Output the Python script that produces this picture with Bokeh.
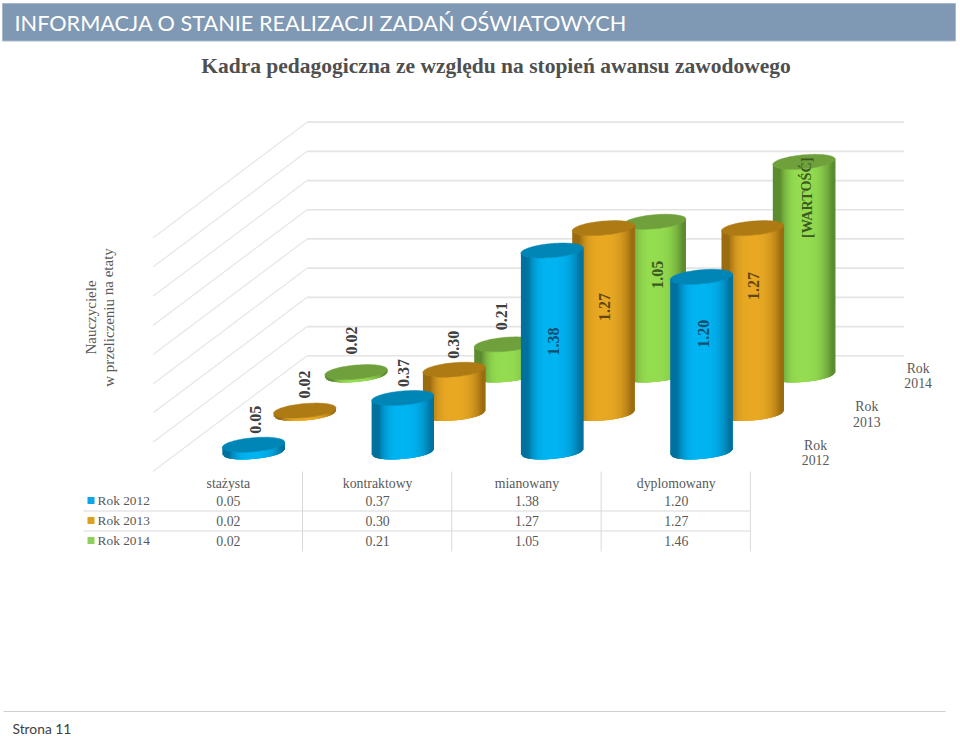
import math
from bokeh.plotting import figure
from bokeh.models import Range1d
from bokeh.core.properties import value
from bokeh.embed import file_html
from bokeh.resources import INLINE

# ---- data ----
categories = ["stażysta", "kontraktowy", "mianowany", "dyplomowany"]
series_names = ["Rok 2012", "Rok 2013", "Rok 2014"]
rok_2012 = [0.05, 0.37, 1.38, 1.20]
rok_2013 = [0.02, 0.30, 1.27, 1.27]
rok_2014 = [0.02, 0.21, 1.05, 1.46]
grid_values = [0.0, 0.2, 0.4, 0.6, 0.8, 1.0, 1.2, 1.4, 1.6]
labels_2012 = ["0.05", "0.37", "1.38", "1.20"]
labels_2013 = ["0.02", "0.30", "1.27", "1.27"]
labels_2014 = ["0.02", "0.21", "1.05", "[WARTOŚĆ]"]

header_text = "INFORMACJA O STANIE REALIZACJI ZADAŃ OŚWIATOWYCH"
title_text = "Kadra pedagogiczna ze względu na stopień awansu zawodowego"
axis_lines = ["Nauczyciele", "w przeliczeniu na etaty"]
footer_text = "Strona 11"

# ---- styles ----
SERIF = "Liberation Serif"
SANS = "Lato"
TXT = "#595959"
# (light, dark edge, top)
palette = [("#00b4f2", "#00729f", "#0086b6"),
           ("#e8a823", "#9c6c10", "#ae7a14"),
           ("#94dc50", "#5d8c30", "#6fa03c")]
key_colors = ["#0ea5e6", "#d9a021", "#8fd05a"]
inside_label_colors = ["#0f4f70", "#5f4510", "#3c5a22"]

# ---- oblique projection (category, depth, value) -> page position ----
X0, Y0, DX_CAT, DX_SER, DY_SER, PX_PER_UNIT = 253.0, 451.5, 149.3, 51.3, 38.5, 146.0
RX, RY, TILT = 31.2, 7.0, 0.085


def project(cat, ser, val):
    return (X0 + DX_CAT * cat + DX_SER * ser,
            Y0 - DY_SER * ser - PX_PER_UNIT * val)


def mix(a, b, t):
    ca = [int(a[i:i + 2], 16) for i in (1, 3, 5)]
    cb = [int(b[i:i + 2], 16) for i in (1, 3, 5)]
    return "#%02x%02x%02x" % tuple(round(p + (q - p) * t) for p, q in zip(ca, cb))


def front_arc(u):
    return RY * math.sqrt(max(0.0, 1 - u * u)) - TILT * RX * u


p = figure(width=960, height=736, output_backend="svg", toolbar_location=None,
           x_range=Range1d(0, 960), y_range=Range1d(736, 0),
           x_axis_location=None, y_axis_location=None, min_border=0,
           outline_line_color=None, background_fill_color="white")
p.grid.visible = False

# header band, footer rule
p.quad(left=[2], right=[955], top=[3], bottom=[40.5], fill_color="#7f98b3", line_color="#a9b9ca", line_width=1)
p.text([14], [22.5], text=[header_text], text_font=value(SANS), text_font_size="21.7px",
       text_color="white", text_baseline="middle")
p.text([495.5], [65.5], text=[title_text], text_font=value(SERIF), text_font_style="bold",
       text_font_size="21.5px", text_color="#4f4f4f", text_align="center", text_baseline="middle")
p.line([3, 945], [711, 711], line_color="#d0d0d0", line_width=1)
p.text([12], [728], text=[footer_text], text_font=value(SANS), text_font_size="13.8px",
       text_color="#404040", text_baseline="middle")

# walls: value gridlines
for g in grid_values:
    a = project(-0.5, -0.5, g)
    b = project(-0.5, 2.5, g)
    c = project(3.5, 2.5, g)
    p.line([a[0], b[0]], [a[1], b[1]], line_color="#e6e6e6", line_width=1.2)
    p.line([b[0], c[0]], [b[1], c[1]], line_color="#e4e4e4", line_width=1.7)

# value axis title
for off, line in zip((90, 108), axis_lines):
    p.text([off], [317], text=[line], angle=[math.pi / 2], text_font=value(SERIF), text_font_size="15px",
           text_color=TXT, text_align="center", text_baseline="middle")

# cylinders, back series first
series = [rok_2012, rok_2013, rok_2014]
N = 40
for s in (2, 1, 0):
    light, dark, top_col = palette[s]
    for c, v in enumerate(series[s]):
        bx, by = project(c, s, 0)
        tx, ty = project(c, s, v)
        xs, ys, cols = [], [], []
        for i in range(N):
            u0 = -1 + 2 * i / N
            um = u0 + 1 / N
            u1 = min(1.0, u0 + 6 / N)  # overlap the next strips so no seams show
            d = um + 0.05
            shade = min(1.0, abs(d) / (0.72 if d < 0 else 0.95)) ** 3
            xs.append([bx + RX * u0, bx + RX * u1, bx + RX * u1, bx + RX * u0])
            ys.append([ty + front_arc(u0), ty + front_arc(u1), by + front_arc(u1), by + front_arc(u0)])
            cols.append(mix(light, dark, shade))
        p.patches(xs, ys, fill_color=cols, line_color=None)
        ts = [2 * math.pi * k / 72 for k in range(72)]
        p.patch([tx + RX * math.cos(t) for t in ts],
                [ty + RY * math.sin(t) - TILT * RX * math.cos(t) for t in ts],
                fill_color=top_col, line_color=top_col, line_width=0.5)

# data labels
label_sets = [labels_2012, labels_2013, labels_2014]
label_offsets = [[(2, -25), (0.5, -25), (1.5, 91), (2, 57)],
                 [(0, -26), (-0.5, -25), (1.5, 79), (1, 58)],
                 [(-4.7, -31.6), (-4, -28), (3, 53), (2.5, 36)]]
for s in range(3):
    for c, v in enumerate(series[s]):
        tx, ty = project(c, s, v)
        dx, dy = label_offsets[s][c]
        text = label_sets[s][c]
        p.text([tx + dx], [ty + dy], text=[text], angle=[math.pi / 2],
               text_font=value(SERIF), text_font_style="bold",
               text_font_size="14.2px" if len(text) > 4 else "16px",
               text_color=inside_label_colors[s] if dy > 0 else "#404040",
               text_align="center", text_baseline="middle")

# depth labels
for s, name in enumerate(series_names):
    x, y = project(3.5, s, 0)
    a, b = name.split()
    p.text([x + 39.5], [y + 0.5 - 7.5], text=[a], text_font=value(SERIF), text_font_size="13.8px",
           text_color=TXT, text_align="center", text_baseline="middle")
    p.text([x + 39.5], [y + 0.5 + 7.5], text=[b], text_font=value(SERIF), text_font_size="13.8px",
           text_color=TXT, text_align="center", text_baseline="middle")

# data table
col_edges = [project(i - 0.5, -0.5, 0)[0] for i in range(1, 5)]
col_centers = [project(i, -0.5, 0)[0] + 0.5 for i in range(4)]
row_y = [500, 520, 540]
for x in col_edges:
    p.line([x, x], [471, 551], line_color="#d9d9d9", line_width=1)
for y in (510.5, 530.5):
    p.line([83, col_edges[-1]], [y, y], line_color="#d9d9d9", line_width=1)
for c, x in zip(categories, col_centers):
    p.text([x], [483], text=[c], text_font=value(SERIF), text_font_size="13.8px", text_color=TXT,
           text_align="center", text_baseline="middle")
for r, name in enumerate(series_names):
    y = row_y[r]
    p.quad(left=[87], right=[94], top=[y - 3.5], bottom=[y + 3.5], fill_color=key_colors[r], line_color=None)
    p.text([97], [y], text=[name], text_font=value(SERIF), text_font_size="13.4px", text_color=TXT,
           text_baseline="middle")
    for x, v in zip(col_centers, series[r]):
        p.text([x], [y], text=["%.2f" % v], text_font=value(SERIF), text_font_size="13.8px", text_color=TXT,
               text_align="center", text_baseline="middle")

open("out.html", "w").write(file_html(p, INLINE))
